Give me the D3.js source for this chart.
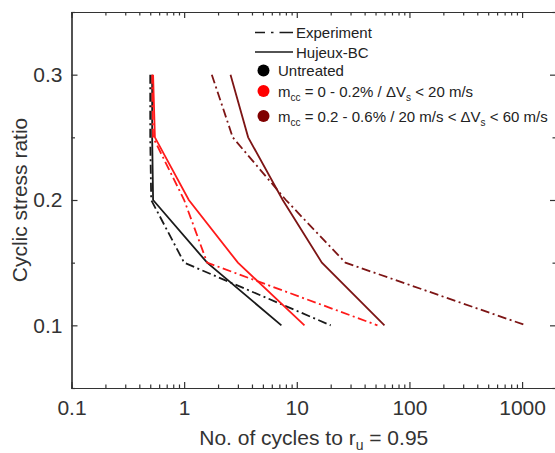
<!DOCTYPE html>
<html>
<head>
<meta charset="utf-8">
<script src="https://cdn.jsdelivr.net/npm/d3@7"></script>
<style>
body{margin:0;background:#fff;}
svg{font-family:"Liberation Sans",Arial,sans-serif;}
.axis path,.axis line{stroke:#333;stroke-width:1.2;}
.axis text{font-size:21px;fill:#333;}
</style>
</head>
<body>
<svg width="555" height="453"></svg>
<script>
// cyclic stress ratio levels
var csr = [0.3, 0.25, 0.2, 0.15, 0.1];
// number of cycles to ru = 0.95
var untreatedExp = [0.5, 0.5, 0.51, 1.0, 20];
var untreatedSim = [0.52, 0.52, 0.53, 1.6, 7.3];
var lowExp = [0.52, 0.53, 1.0, 1.6, 52];
var lowSim = [0.53, 0.55, 1.1, 3.0, 11.7];
var highExp = [1.76, 2.7, 8.0, 27, 1080];
var highSim = [2.58, 3.7, 7.5, 16.7, 60];

var xMajor = [0.1, 1, 10, 100, 1000];
var yMajor = [0.1, 0.2, 0.3];
var yMinor = [0.05, 0.15, 0.25, 0.35];

var legendLines = ["Experiment", "Hujeux-BC"];

var red = "#ff1a1a", dark = "#7d1515", black = "#1a1a1a";
var dashDot = "9,3.5,2,3.5";

var series = [
    {n: untreatedExp, color: black, dash: dashDot},
    {n: untreatedSim, color: black, dash: null},
    {n: lowExp, color: red, dash: dashDot},
    {n: lowSim, color: red, dash: null},
    {n: highExp, color: dark, dash: dashDot},
    {n: highSim, color: dark, dash: null}
];

var margins = {left: 71.5, right: -1, top: 12, bottom: 65};
var screen = {width: 555, height: 453};
var graph = {
    width: screen.width - margins.left - margins.right,
    height: screen.height - margins.top - margins.bottom
};

var svg = d3.select("svg");

var xScale = d3.scaleLog()
    .domain([0.1, 2000])
    .range([0, graph.width]);
var yScale = d3.scaleLinear()
    .domain([0.05, 0.35])
    .range([graph.height, 0]);

var g = svg.append("g")
    .attr("transform", "translate(" + margins.left + "," + margins.top + ")");

var xMinor = xScale.ticks().filter(function(t) {
    return xMajor.indexOf(t) < 0;
});

// bottom + top axes
g.append("g").attr("class", "axis")
    .attr("transform", "translate(0," + graph.height + ")")
    .call(d3.axisBottom(xScale).tickValues(xMinor).tickSize(-3.5).tickFormat(""));
g.append("g").attr("class", "axis")
    .attr("transform", "translate(0," + graph.height + ")")
    .call(d3.axisBottom(xScale).tickValues(xMajor).tickSizeInner(-6).tickSizeOuter(0)
        .tickPadding(12).tickFormat(d3.format("~g")));
g.append("g").attr("class", "axis")
    .call(d3.axisTop(xScale).tickValues(xMinor).tickSize(-3.5).tickFormat(""));
g.append("g").attr("class", "axis")
    .call(d3.axisTop(xScale).tickValues(xMajor).tickSizeInner(-6).tickSizeOuter(0).tickFormat(""));

// left + right axes
g.append("g").attr("class", "axis")
    .call(d3.axisLeft(yScale).tickValues(yMinor).tickSize(-3.5).tickFormat(""));
g.append("g").attr("class", "axis")
    .call(d3.axisLeft(yScale).tickValues(yMajor).tickSizeInner(-6).tickSizeOuter(0)
        .tickPadding(9).tickFormat(d3.format(".1f")));
g.append("g").attr("class", "axis")
    .attr("transform", "translate(" + graph.width + ",0)")
    .call(d3.axisRight(yScale).tickValues(yMinor).tickSize(-3.5).tickFormat(""));
g.append("g").attr("class", "axis")
    .attr("transform", "translate(" + graph.width + ",0)")
    .call(d3.axisRight(yScale).tickValues(yMajor).tickSizeInner(-6).tickSizeOuter(0).tickFormat(""));

// lines
var lineGenerator = d3.line()
    .x(function(d) { return xScale(d[0]); })
    .y(function(d) { return yScale(d[1]); });

g.selectAll(".curve")
    .data(series)
    .enter()
    .append("path")
    .attr("class", "curve")
    .attr("fill", "none")
    .attr("stroke", function(s) { return s.color; })
    .attr("stroke-width", 1.8)
    .attr("stroke-dasharray", function(s) { return s.dash; })
    .attr("d", function(s) {
        return lineGenerator(s.n.map(function(v, i) { return [v, csr[i]]; }));
    });

// axis titles
var labels = svg.append("g").attr("fill", "#333").attr("font-size", 21);
var xt = labels.append("text")
    .attr("text-anchor", "middle")
    .attr("x", margins.left + graph.width / 2)
    .attr("y", 445);
xt.append("tspan").text("No. of cycles to r");
xt.append("tspan").attr("font-size", 14).attr("dy", 5).text("u");
xt.append("tspan").attr("dy", -5).text(" = 0.95");

labels.append("text")
    .attr("text-anchor", "middle")
    .attr("transform", "translate(27," + (margins.top + graph.height / 2) + ") rotate(-90)")
    .text("Cyclic stress ratio");

// legend
var legend = svg.append("g").attr("font-size", 15).attr("fill", "#222");
legendLines.forEach(function(name, i) {
    var y = 32.5 + i * 19.5;
    legend.append("line")
        .attr("x1", 255).attr("x2", 293)
        .attr("y1", y).attr("y2", y)
        .attr("stroke", black).attr("stroke-width", 1.6)
        .attr("stroke-dasharray", i == 0 ? "10,6,2.5,6,14" : null);
    legend.append("text").attr("x", 296).attr("y", y + 5.5).text(name);
});

var markerRows = [
    {y: 70.5, color: "#000"},
    {y: 91, color: "#ff0000"},
    {y: 116, color: "#800000"}
];
legend.selectAll("circle")
    .data(markerRows)
    .enter()
    .append("circle")
    .attr("cx", 263.5)
    .attr("cy", function(d) { return d.y; })
    .attr("r", 6)
    .attr("fill", function(d) { return d.color; });

legend.append("text").attr("x", 278).attr("y", 76).text("Untreated");

var t4 = legend.append("text").attr("x", 278).attr("y", 96.5);
t4.append("tspan").text("m");
t4.append("tspan").attr("font-size", 10).attr("dy", 4).text("cc");
t4.append("tspan").attr("dy", -4).text(" = 0 - 0.2% / ΔV");
t4.append("tspan").attr("font-size", 10).attr("dy", 4).text("s");
t4.append("tspan").attr("dy", -4).text(" < 20 m/s");

var t5 = legend.append("text").attr("x", 278).attr("y", 121.5);
t5.append("tspan").text("m");
t5.append("tspan").attr("font-size", 10).attr("dy", 4).text("cc");
t5.append("tspan").attr("dy", -4).text(" = 0.2 - 0.6% / 20 m/s < ΔV");
t5.append("tspan").attr("font-size", 10).attr("dy", 4).text("s");
t5.append("tspan").attr("dy", -4).text(" < 60 m/s");
</script>
</body>
</html>
